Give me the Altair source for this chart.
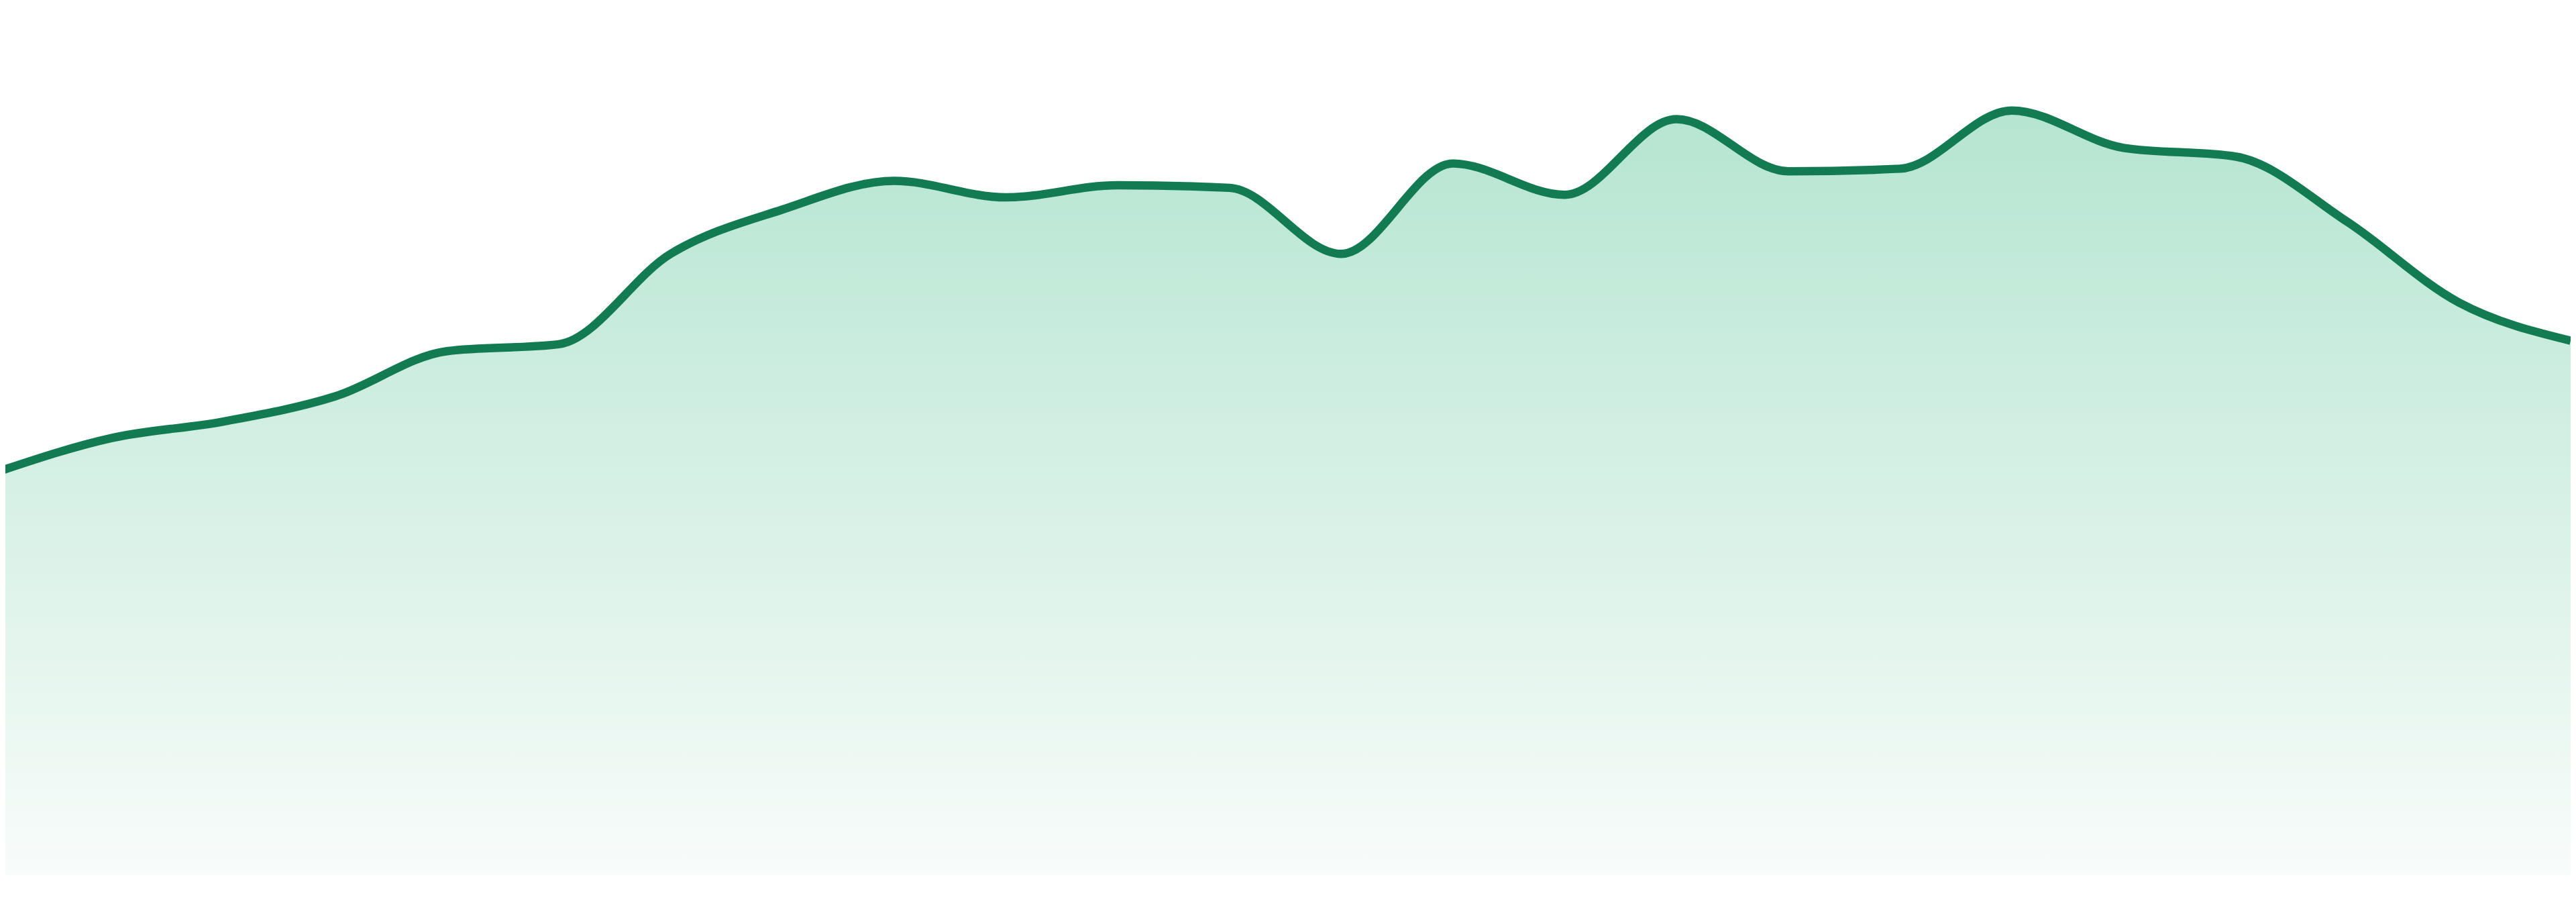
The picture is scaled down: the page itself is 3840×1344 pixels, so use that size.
import altair as alt
import pandas as pd

# Data (index of each point and its value)
days = list(range(24))
values = [46.5, 50.3, 52.2, 55.1, 60.3, 61.1, 71.5, 76.6, 79.9, 78.0, 79.4, 79.1,
          71.5, 81.9, 78.3, 87.0, 81.0, 81.3, 88.0, 83.7, 82.7, 75.2, 65.9, 61.5]

df = pd.DataFrame({"day": days, "value": values})

gradient = alt.Gradient(
    gradient="linear",
    stops=[
        alt.GradientStop(color="#b5e5d1", offset=0),
        alt.GradientStop(color="#f8fcfa", offset=1),
    ],
    x1=0, x2=0, y1=0, y2=1,
)

x_enc = alt.X("day:Q", axis=None,
              scale=alt.Scale(domain=[8 / 166.96, 23], nice=False, zero=False))
y_enc = alt.Y("value:Q", axis=None, scale=alt.Scale(domain=[0, 100], nice=False))

area = alt.Chart(df).mark_area(interpolate="monotone", color=gradient, clip=True).encode(
    x=x_enc, y=y_enc
)
line = alt.Chart(df).mark_line(interpolate="monotone", color="#127b52", strokeWidth=12.5,
                               clip=True).encode(x=x_enc, y=y_enc)

chart = (area + line).properties(width=3832, height=1297, padding=0,
                                 background="white").configure_view(stroke=None)

chart.save("out.html", embed_options={"renderer": "svg", "actions": False})
